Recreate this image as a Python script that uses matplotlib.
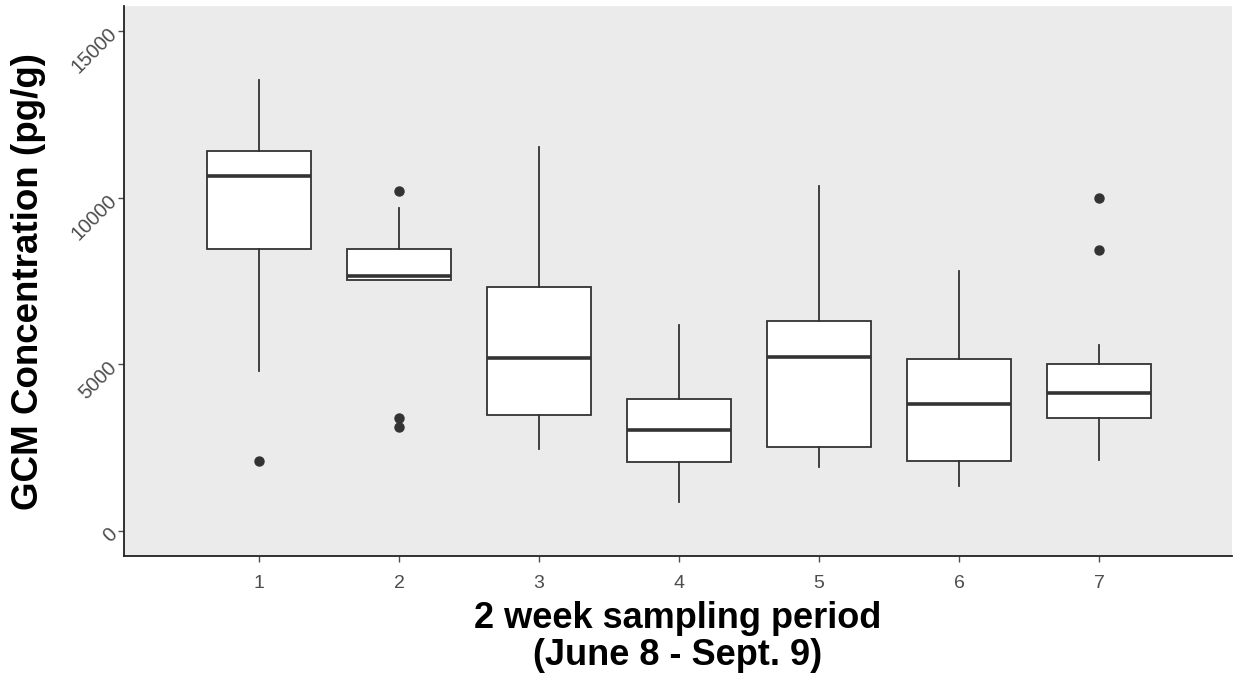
import matplotlib
matplotlib.use("Agg")
import matplotlib.pyplot as plt

periods = ["1", "2", "3", "4", "5", "6", "7"]
whisker_low = [4800, 7520, 2460, 885, 1930, 1345, 2140]
q1 = [8470, 7520, 3477, 2063, 2530, 2111, 3378]
medians = [10660, 7650, 5182, 3029, 5232, 3806, 4135]
q3 = [11410, 8471, 7314, 3947, 6309, 5152, 5002]
whisker_high = [13520, 9690, 11530, 6168, 10363, 7792, 5580]
outliers = [[2100], [10205, 3378, 3110], [], [], [], [], [9987, 8420]]
y_ticks = [0, 5000, 10000, 15000]

plt.rcParams['font.family'] = ['Liberation Sans', 'DejaVu Sans']

fig = plt.figure(figsize=(12.36, 6.76), dpi=100)
ax = fig.add_axes([0.1003, 0.1775, 0.8965, 0.8135])
ax.set_facecolor('#EBEBEB')

stats = []
for i in range(len(periods)):
    stats.append(dict(label=periods[i], whislo=whisker_low[i], q1=q1[i],
                      med=medians[i], q3=q3[i], whishi=whisker_high[i],
                      fliers=outliers[i]))

positions = list(range(1, len(periods) + 1))
edge = '#333333'
ax.bxp(stats, positions=positions, widths=0.745, patch_artist=True,
       showcaps=False,
       boxprops=dict(facecolor='white', edgecolor=edge, linewidth=1.3),
       medianprops=dict(color=edge, linewidth=2.6),
       whiskerprops=dict(color=edge, linewidth=1.3),
       flierprops=dict(marker='o', markerfacecolor=edge, markeredgecolor=edge,
                       markersize=6.5, linestyle='none'))

ax.set_xlim(0.036, 7.95)
ax.set_ylim(-750, 15750)
ax.set_yticks(y_ticks)
ax.set_yticklabels([str(v) for v in y_ticks], rotation=45, ha='right',
                   va='center', rotation_mode='anchor', fontsize=14.5)
ax.set_xticks(positions)
ax.set_xticklabels(periods, fontsize=14)

for s in ['top', 'right']:
    ax.spines[s].set_visible(False)
for s in ['left', 'bottom']:
    ax.spines[s].set_color('#222222')
    ax.spines[s].set_linewidth(1.3)

ax.tick_params(axis='both', colors='#4D4D4D', length=4,
               width=1.0, labelcolor='#4D4D4D')
ax.tick_params(axis='x', pad=10)
ax.tick_params(axis='y', pad=3)

ax.set_xlabel("2 week sampling period\n(June 8 - Sept. 9)", fontsize=26,
              fontweight='bold', color='black', labelpad=6, linespacing=1.1)
ax.set_ylabel("GCM Concentration (pg/g)", fontsize=26.5, fontweight='bold',
              color='black', labelpad=16)

fig.savefig("out.png", dpi=100, facecolor='white')
